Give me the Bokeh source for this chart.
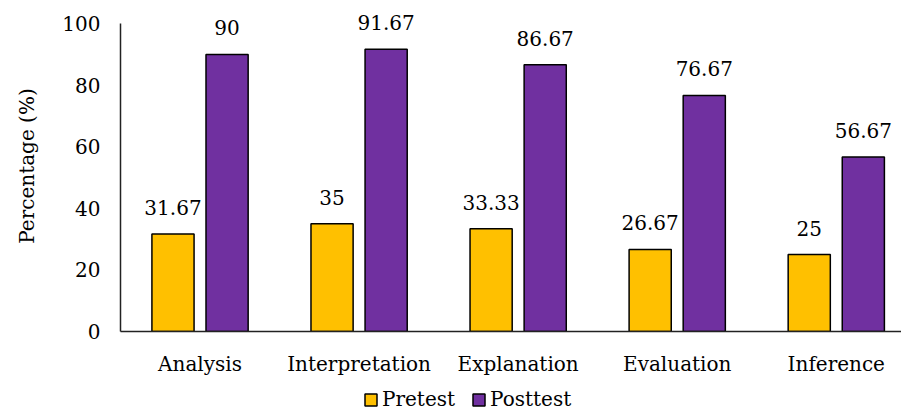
from bokeh.plotting import figure
from bokeh.layouts import column
from bokeh.models import ColumnDataSource, Range1d, FixedTicker, Legend, LegendItem
from bokeh.core.properties import value
from bokeh.embed import file_html
from bokeh.resources import INLINE

categories = ["Analysis", "Interpretation", "Explanation", "Evaluation", "Inference"]
pretest = [31.67, 35, 33.33, 26.67, 25]
posttest = [90, 91.67, 86.67, 76.67, 56.67]
y_ticks = [0, 20, 40, 60, 80, 100]
series_names = ["Pretest", "Posttest"]
series_colors = ["#FFC000", "#7030A0"]

FONT = "DejaVu Serif"
FS = "20px"

def fmt(v):
    return ("%.2f" % v).rstrip("0").rstrip(".")

xs = list(range(len(categories)))
off = 0.17
bw = 0.265
src_pre = ColumnDataSource(dict(x=[i - off for i in xs], top=pretest,
                                lab=[fmt(v) for v in pretest]))
src_post = ColumnDataSource(dict(x=[i + off for i in xs], top=posttest,
                                 lab=[fmt(v) for v in posttest]))

p = figure(width=901, height=380, output_backend="svg", toolbar_location=None,
           x_range=Range1d(-0.5, 4.41), y_range=Range1d(0, 107.5),
           min_border_left=120, min_border_right=0, min_border_top=0,
           min_border_bottom=49)
p.outline_line_color = None
p.xgrid.visible = False
p.ygrid.visible = False

p.vbar(x="x", top="top", width=bw, source=src_pre, fill_color=series_colors[0],
       line_color="black", line_width=1.5)
p.vbar(x="x", top="top", width=bw, source=src_post, fill_color=series_colors[1],
       line_color="black", line_width=1.5)

for s in (src_pre, src_post):
    p.text(x="x", y="top", text="lab", source=s, text_align="center",
           text_baseline="bottom", y_offset=-19, text_font=value(FONT),
           text_font_size=FS, text_color="black")

p.xaxis.ticker = FixedTicker(ticks=xs)
p.xaxis.major_label_overrides = {i: c for i, c in enumerate(categories)}
p.yaxis.ticker = FixedTicker(ticks=y_ticks)
p.yaxis.bounds = (0, 100)
for ax in (p.xaxis, p.yaxis):
    ax.major_tick_line_color = None
    ax.minor_tick_line_color = None
    ax.axis_line_color = "#222222"
    ax.axis_line_width = 1.5
    ax.major_label_text_font = FONT
    ax.major_label_text_font_size = FS
    ax.major_label_text_color = "black"
p.xaxis.major_label_standoff = 14
p.yaxis.major_label_standoff = 14
p.yaxis.axis_label = "Percentage (%)"
p.yaxis.axis_label_text_font = FONT
p.yaxis.axis_label_text_font_size = FS
p.yaxis.axis_label_text_font_style = "normal"
p.yaxis.axis_label_text_color = "black"
p.yaxis.axis_label_standoff = 20

# legend strip
q = figure(width=901, height=31, output_backend="svg", toolbar_location=None,
           x_range=Range1d(0, 1), y_range=Range1d(0, 1),
           min_border_left=0, min_border_right=0, min_border_top=0,
           min_border_bottom=0)
q.axis.visible = False
q.grid.visible = False
q.outline_line_color = None
items = []
for name, col in zip(series_names, series_colors):
    r = q.vbar(x=[float("nan")], top=[float("nan")], width=0.1, fill_color=col,
               line_color="black", line_width=1.5)
    items.append(LegendItem(label=name, renderers=[r]))
legend = Legend(items=items, orientation="horizontal", location=(243, 0),
                label_text_font=FONT, label_text_font_size=FS,
                label_text_color="black",
                glyph_width=15, glyph_height=15, spacing=16, label_standoff=4,
                padding=2, margin=0, border_line_color=None,
                background_fill_alpha=0)
q.add_layout(legend)

layout = column(p, q, spacing=0)
open("out.html", "w").write(file_html(layout, INLINE))
